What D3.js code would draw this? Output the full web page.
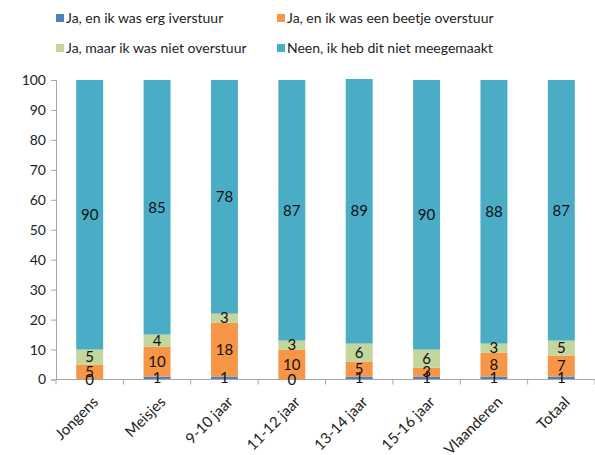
<!DOCTYPE html>
<html><head><meta charset="utf-8">
<script src="https://cdn.jsdelivr.net/npm/d3@7"></script>
<style>body{margin:0;background:#fff}svg{display:block}</style>
</head><body>
<svg id="c" width="595" height="455"></svg>
<script>
const categories = ["Jongens","Meisjes","9-10 jaar","11-12 jaar","13-14 jaar","15-16 jaar","Vlaanderen","Totaal"];
const seriesNames = ["Ja, en ik was erg iverstuur","Ja, en ik was een beetje overstuur","Ja, maar ik was niet overstuur","Neen, ik heb dit niet meegemaakt"];
const ergOverstuur   = [0,1,1,0,1,1,1,1];
const beetjeOverstuur= [5,10,18,10,5,3,8,7];
const nietOverstuur  = [5,4,3,3,6,6,3,5];
const nietMeegemaakt = [90,85,78,87,89,90,88,87];
const yTicks = [0,10,20,30,40,50,60,70,80,90,100];
const colors = ["#4F81BD","#F79646","#C3D69B","#4BACC6"];

(function(){
const font = "Lato, 'Open Sans', sans-serif";
const svg = d3.select("#c");
const mLeft = 56, mRight = 595, mTop = 80, mBottom = 379.5;

const rows = categories.map((c,i)=>({cat:c, s0:ergOverstuur[i], s1:beetjeOverstuur[i], s2:nietOverstuur[i], s3:nietMeegemaakt[i]}));
const stack = d3.stack().keys(["s0","s1","s2","s3"])(rows);

const x = d3.scaleBand().domain(categories).range([mLeft,mRight]).paddingInner(0.6).paddingOuter(0.3);
const y = d3.scaleLinear().domain([0,100]).range([mBottom,mTop]);
const yBar = d3.scaleLinear().domain([0,100]).range([mBottom,mTop]).clamp(true);

const g = svg.append("g");
stack.forEach((layer,k)=>{
  g.selectAll(null).data(layer).enter().append("rect")
    .attr("x", d=>x(d.data.cat))
    .attr("width", x.bandwidth())
    .attr("y", d=>yBar(d[1]) - (d[1] > 100 ? 1 : 0))
    .attr("height", d=>yBar(d[0])-yBar(d[1]) + (d[1] > 100 ? 1 : 0))
    .attr("fill", colors[k]);
});

const ya = svg.append("g").attr("transform",`translate(${mLeft},0)`)
  .call(d3.axisLeft(y).tickValues(yTicks).tickSize(5).tickPadding(5));
ya.select(".domain").attr("stroke","#a6a6a6");
ya.selectAll(".tick line").attr("stroke","#a6a6a6");
ya.selectAll("text").attr("font-family",font).attr("font-size",14).attr("fill","#222");

const xa = svg.append("g");
xa.append("line").attr("x1",mLeft).attr("x2",mRight).attr("y1",mBottom).attr("y2",mBottom).attr("stroke","#a6a6a6");
const step = x.step();
const start = x(categories[0]) + x.bandwidth()/2 - step/2;
const bounds = d3.range(categories.length+1).map(i=>start + i*step);
xa.selectAll(null).data(bounds).enter().append("line")
  .attr("x1",d=>d).attr("x2",d=>d).attr("y1",mBottom).attr("y2",mBottom+5).attr("stroke","#a6a6a6");
xa.selectAll(null).data(categories).enter().append("text")
  .attr("transform", d=>`translate(${x(d)+x.bandwidth()/2+2},${mBottom+16}) rotate(-45)`)
  .attr("text-anchor","end").attr("dy","0.7em")
  .attr("font-family",font).attr("font-size",15).attr("fill","#222")
  .text(d=>d);

stack.forEach((layer,k)=>{
  svg.append("g").selectAll(null).data(layer).enter().append("text")
    .attr("x", d=>x(d.data.cat)+x.bandwidth()/2)
    .attr("y", d=>y((d[0]+d[1])/2))
    .attr("dy","0.35em")
    .attr("text-anchor","middle")
    .attr("font-family",font).attr("font-size",15).attr("fill","#111")
    .text(d=>d.data["s"+k]);
});

const legPos = [[56,18],[277,18],[56,48],[277,48]];
seriesNames.forEach((n,i)=>{
  const lg = svg.append("g").attr("transform",`translate(${legPos[i][0]},${legPos[i][1]})`);
  lg.append("rect").attr("x",0).attr("y",-4).attr("width",8).attr("height",8).attr("fill",colors[i]);
  lg.append("text").attr("x",10).attr("y",0).attr("dy","0.35em")
    .attr("font-family",font).attr("font-size",14).attr("fill","#222").text(n);
});
})();
</script>
</body></html>
